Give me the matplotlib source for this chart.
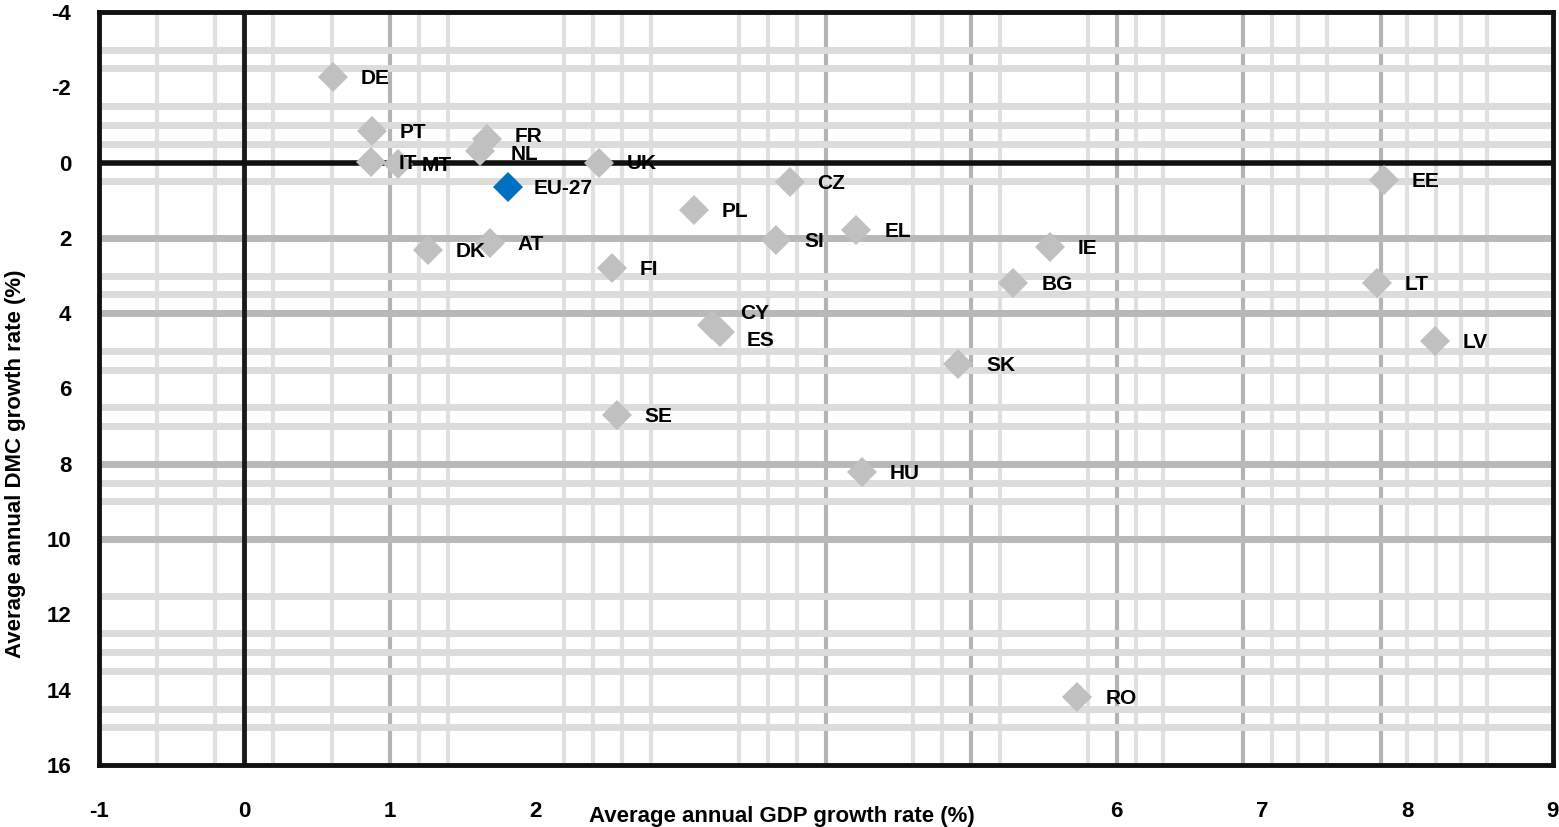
import matplotlib
matplotlib.use("Agg")
import matplotlib.pyplot as plt

# ---------------------------------------------------------------------------
# Data: average annual GDP growth (x) vs average annual DMC growth (y), %
# ---------------------------------------------------------------------------
countries = ["DE", "PT", "IT", "MT", "FR", "NL", "UK", "DK", "AT", "FI", "PL",
             "CZ", "SI", "EL", "CY", "ES", "SE", "HU", "SK", "BG", "IE", "EE",
             "LT", "LV", "RO"]
gdp_growth = [0.61, 0.88, 0.87, 1.06, 1.67, 1.62, 2.44, 1.26, 1.69, 2.53, 3.09,
              3.75, 3.66, 4.21, 3.22, 3.27, 2.56, 4.25, 4.91, 5.29, 5.54, 7.84,
              7.79, 8.19, 5.73]
dmc_growth = [-2.27, -0.84, -0.02, 0.05, -0.62, -0.30, 0.0, 2.32, 2.14, 2.80, 1.26,
              0.52, 2.06, 1.79, 4.31, 4.50, 6.70, 8.22, 5.35, 3.20, 2.24, 0.46,
              3.20, 4.74, 14.19]

eu_label = "EU-27"
eu_gdp = [1.81]
eu_dmc = [0.65]

x_ticks = [-1, 0, 1, 2, 3, 4, 5, 6, 7, 8, 9]
# 3, 4 and 5 sit under the axis title in the original, so no label is shown
x_tick_labels = ["-1", "0", "1", "2", "", "", "", "6", "7", "8", "9"]
y_ticks = [-4, -2, 0, 2, 4, 6, 8, 10, 12, 14, 16]
y_tick_labels = ["-4", "-2", "0", "2", "4", "6", "8", "10", "12", "14", "16"]

# label nudges (points) where names would collide
label_offsets = {"CY": (20, 8), "ES": (19, -6), "FR": (20, 2), "NL": (22, -2),
                 "MT": (17, -1)}

# grid lines as they appear in the picture
v_light = [-0.6, -0.2, 0.2, 0.6, 1.2, 1.4, 2.2, 2.4, 2.6, 2.8, 3.4, 3.6, 3.8,
           4.6, 4.8, 5.2, 5.8, 6.13, 6.32, 7.07, 7.25, 7.45, 8.0, 8.2, 8.37, 8.55]
v_dark = [1, 4, 5, 6, 6.87, 7.82]
h_light = [-3, -2.5, -1.5, -1, -0.5, 0.5, 3, 3.5, 5, 5.5, 6.5, 7, 8.5, 9,
           11.5, 12.5, 13, 13.5, 14.5, 15]
h_dark = [2, 4, 8, 10]

# ---------------------------------------------------------------------------
# Plot
# ---------------------------------------------------------------------------
plt.rcParams["font.family"] = ["Liberation Sans", "DejaVu Sans"]

fig = plt.figure(figsize=(15.59, 8.27), dpi=100)
ax = fig.add_axes([0.0635, 0.075, 0.9325, 0.9105])

ax.set_xlim(-1, 9)
ax.set_ylim(16, -4)

for v in v_light:
    ax.axvline(v, color="#e0e0e0", linewidth=3, zorder=0)
for v in v_dark:
    ax.axvline(v, color="#b4b4b4", linewidth=3, zorder=0)
for h in h_light:
    ax.axhline(h, color="#dcdcdc", linewidth=5, zorder=0)
for h in h_dark:
    ax.axhline(h, color="#b8b8b8", linewidth=5, zorder=0)

ax.axvline(0, color="#1a1a1a", linewidth=3.5, zorder=1)
ax.axhline(0, color="#111111", linewidth=4, zorder=1)

ax.plot(gdp_growth, dmc_growth, linestyle="none", marker="D", markersize=15.5,
        color="#c0c0c0", markeredgewidth=0, zorder=3)
ax.plot(eu_gdp, eu_dmc, linestyle="none", marker="D", markersize=15.5,
        color="#0070c0", markeredgewidth=0, zorder=4)

for name, x, y in zip(countries, gdp_growth, dmc_growth):
    ax.annotate(name, (x, y), xytext=label_offsets.get(name, (20, -1)),
                textcoords="offset points", fontsize=15, fontweight="bold",
                color="black", va="center", ha="left", zorder=5)
ax.annotate(eu_label, (eu_gdp[0], eu_dmc[0]), xytext=(19, -1),
            textcoords="offset points", fontsize=15, fontweight="bold",
            color="black", va="center", ha="left", zorder=5)

ax.set_xticks(x_ticks)
ax.set_xticklabels(x_tick_labels)
ax.set_yticks(y_ticks)
ax.set_yticklabels(y_tick_labels)
ax.tick_params(axis="both", length=0, labelsize=16)
ax.tick_params(axis="x", pad=26)
ax.tick_params(axis="y", pad=20)
for lbl in ax.get_xticklabels() + ax.get_yticklabels():
    lbl.set_fontweight("bold")

for sp in ax.spines.values():
    sp.set_linewidth(3.5)
    sp.set_color("#111111")

ax.set_xlabel("Average annual GDP growth rate (%)", fontsize=16,
              fontweight="bold")
ax.xaxis.set_label_coords(0.47, -0.055)
ax.set_ylabel("Average annual DMC growth rate (%)", fontsize=16,
              fontweight="bold")
ax.yaxis.set_label_coords(-0.05, 0.40)

fig.savefig("out.png", dpi=100)
